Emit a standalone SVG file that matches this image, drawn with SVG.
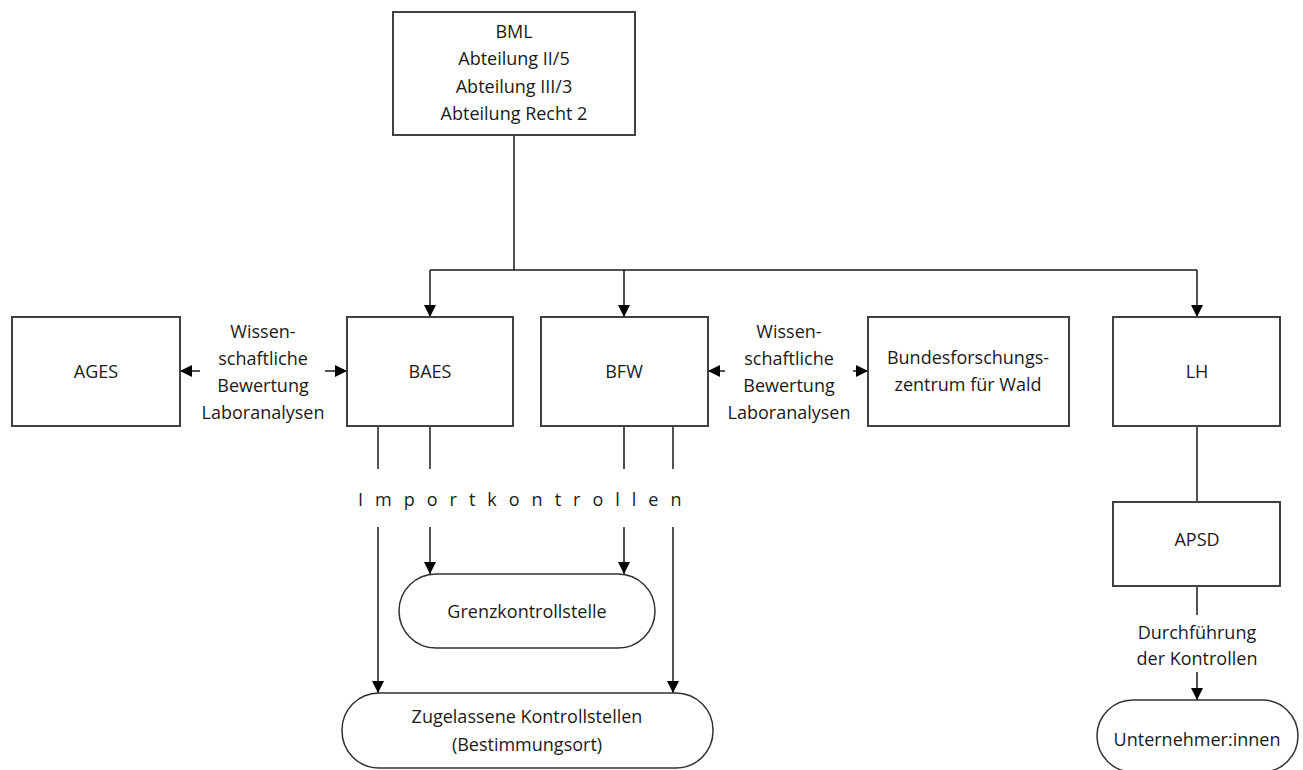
<svg xmlns="http://www.w3.org/2000/svg" width="1303" height="770" viewBox="0 0 1303 770">
<defs>
<marker id="ah" markerUnits="userSpaceOnUse" markerWidth="13" markerHeight="13" refX="12" refY="6" orient="auto">
<path d="M0,0 L12,6 L0,12 z" fill="#000"/>
</marker>
</defs>
<style>
.box{fill:#fff;stroke:#404040;stroke-width:2}
.rnd{fill:#fff;stroke:#303030;stroke-width:1.5}
.t{font-family:"Open Sans","Noto Sans","DejaVu Sans",sans-serif;font-size:18px;fill:#1a1a1a;text-anchor:middle}
.c{fill:none;stroke:#1a1a1a;stroke-width:1.5}
.a{fill:none;stroke:#1a1a1a;stroke-width:1.5;marker-end:url(#ah)}
</style>
<rect width="1303" height="770" fill="#fff"/>
<g id="connectors">
<path class="c" d="M514,135 V270 M430,270 H1197"/>
<path class="a" d="M430,270 V317"/>
<path class="a" d="M624,270 V317"/>
<path class="a" d="M1197,270 V317"/>
<path class="a" d="M200,371 H180"/>
<path class="a" d="M325,371 H347"/>
<path class="a" d="M725,371 H708"/>
<path class="a" d="M853,371 H868"/>
<path class="c" d="M378,426 V469 M430,426 V469 M624,426 V469 M673,426 V469"/>
<path class="a" d="M378,527 V693"/>
<path class="a" d="M430,527 V574"/>
<path class="a" d="M624,527 V574"/>
<path class="a" d="M673,527 V693"/>
<path class="c" d="M1197,426 V502 M1197,586 V615"/>
<path class="a" d="M1197,672 V700"/>
<text class="t" x="263" y="338">Wissen-</text>
<text class="t" x="263" y="365">schaftliche</text>
<text class="t" x="263" y="392">Bewertung</text>
<text class="t" x="263" y="419">Laboranalysen</text>
<text class="t" x="789" y="338">Wissen-</text>
<text class="t" x="789" y="365">schaftliche</text>
<text class="t" x="789" y="392">Bewertung</text>
<text class="t" x="789" y="419">Laboranalysen</text>
<text class="t" x="358" y="506" style="text-anchor:start;letter-spacing:12px">Importkontrollen</text>
<text class="t" x="1197" y="639">Durchführung</text>
<text class="t" x="1197" y="665">der Kontrollen</text>
</g>
<g id="bml">
<rect class="box" x="393" y="12" width="242" height="123"/>
<text class="t" x="514" y="38">BML</text>
<text class="t" x="514" y="65">Abteilung II/5</text>
<text class="t" x="514" y="93">Abteilung III/3</text>
<text class="t" x="514" y="120">Abteilung Recht 2</text>
</g>
<g id="ages">
<rect class="box" x="12" y="317" width="168" height="109"/>
<text class="t" x="96" y="378">AGES</text>
</g>
<g id="baes">
<rect class="box" x="347" y="317" width="166" height="109"/>
<text class="t" x="430" y="378">BAES</text>
</g>
<g id="bfw">
<rect class="box" x="541" y="317" width="167" height="109"/>
<text class="t" x="624" y="378">BFW</text>
</g>
<g id="bundesforschungszentrum">
<rect class="box" x="868" y="317" width="201" height="109"/>
<text class="t" x="968" y="364">Bundesforschungs-</text>
<text class="t" x="968" y="391">zentrum für Wald</text>
</g>
<g id="lh">
<rect class="box" x="1113" y="317" width="167" height="109"/>
<text class="t" x="1197" y="378">LH</text>
</g>
<g id="apsd">
<rect class="box" x="1113" y="502" width="167" height="84"/>
<text class="t" x="1197" y="546">APSD</text>
</g>
<g id="grenzkontrollstelle">
<rect class="rnd" x="399" y="574" width="256" height="74" rx="37" ry="37"/>
<text class="t" x="527" y="618">Grenzkontrollstelle</text>
</g>
<g id="zugelassene-kontrollstellen">
<rect class="rnd" x="342" y="693" width="371" height="75" rx="37" ry="37"/>
<text class="t" x="527" y="723">Zugelassene Kontrollstellen</text>
<text class="t" x="527" y="751">(Bestimmungsort)</text>
</g>
<g id="unternehmer">
<rect class="rnd" x="1097" y="700" width="201" height="72" rx="36" ry="36"/>
<text class="t" x="1197" y="746">Unternehmer:innen</text>
</g>
</svg>
